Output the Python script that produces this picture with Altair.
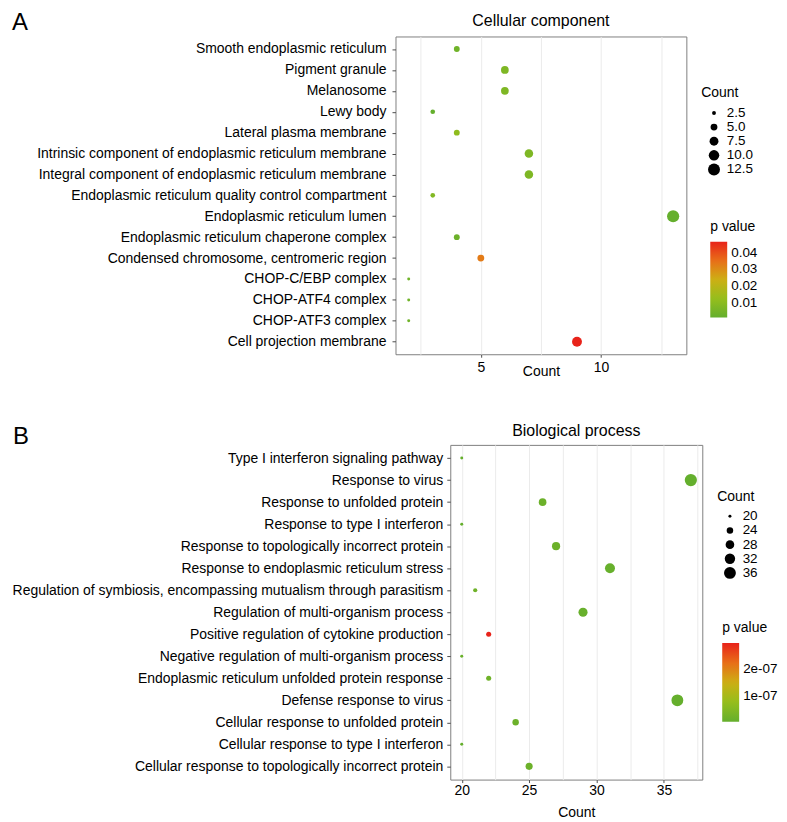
import altair as alt
import pandas as pd

# ---------------- Data ----------------
cc_terms = [
    "Smooth endoplasmic reticulum",
    "Pigment granule",
    "Melanosome",
    "Lewy body",
    "Lateral plasma membrane",
    "Intrinsic component of endoplasmic reticulum membrane",
    "Integral component of endoplasmic reticulum membrane",
    "Endoplasmic reticulum quality control compartment",
    "Endoplasmic reticulum lumen",
    "Endoplasmic reticulum chaperone complex",
    "Condensed chromosome, centromeric region",
    "CHOP-C/EBP complex",
    "CHOP-ATF4 complex",
    "CHOP-ATF3 complex",
    "Cell projection membrane",
]
cc_count = [4, 6, 6, 3, 4, 7, 7, 3, 13, 4, 5, 2, 2, 2, 9]
cc_pvalue = [0.004, 0.007, 0.007, 0.0012, 0.011, 0.007, 0.007, 0.008,
             0.0015, 0.003, 0.033, 0.004, 0.004, 0.004, 0.0466]

bp_terms = [
    "Type I interferon signaling pathway",
    "Response to virus",
    "Response to unfolded protein",
    "Response to type I interferon",
    "Response to topologically incorrect protein",
    "Response to endoplasmic reticulum stress",
    "Regulation of symbiosis, encompassing mutualism through parasitism",
    "Regulation of multi-organism process",
    "Positive regulation of cytokine production",
    "Negative regulation of multi-organism process",
    "Endoplasmic reticulum unfolded protein response",
    "Defense response to virus",
    "Cellular response to unfolded protein",
    "Cellular response to type I interferon",
    "Cellular response to topologically incorrect protein",
]
bp_count = [20, 37, 26, 20, 27, 31, 21, 29, 22, 20, 22, 36, 24, 20, 25]
bp_pvalue = [6e-9, 4e-9, 1.5e-8, 6e-9, 1.5e-8, 8e-9, 2e-8, 1e-8, 2.96e-7,
             1.2e-8, 2e-8, 5e-9, 1.5e-8, 6e-9, 1.5e-8]

cc_size_ticks = [2.5, 5, 7.5, 10, 12.5]
bp_size_ticks = [20, 24, 28, 32, 36]
cc_p_ticks = [0.01, 0.02, 0.03, 0.04]
bp_p_ticks = [1e-7, 2e-7]
cc_x_grid = [2.5, 5, 7.5, 10, 12.5]
bp_x_grid = [20, 22.5, 25, 27.5, 30, 32.5, 35, 37.5]

# green -> yellow-green -> mustard -> orange -> red (as in the colour bar)
P_COLORS = ["#64AF2D", "#96BE1C", "#CDAF14", "#E86E18", "#E8231A"]
LABEL_FS = 14


def panel(terms, counts, pvals, title, letter, width, height, letter_x,
          title_y, letter_y, xdom, grid_vals, label_pad, axis_title_y,
          ylabel_pad, size_dom, size_vals, size_fmt, p_vals, p_label_expr,
          lx_count, ly_count, lx_p, ly_p, grad_len):
    df = pd.DataFrame({"term": terms, "Count": counts, "p": pvals})
    pts = alt.Chart(df).mark_circle(opacity=1).encode(
        x=alt.X(
            "Count:Q",
            scale=alt.Scale(domain=xdom, nice=False, zero=False),
            axis=alt.Axis(
                values=grid_vals,
                labelExpr="datum.value % 5 == 0 ? datum.label : ''",
                tickOpacity={"condition": {"test": "datum.value % 5 == 0", "value": 1}, "value": 0},
                labelFlush=False,
                labelPadding=label_pad,
                tickSize=3,
                title="Count",
                titleY=axis_title_y,
                titleBaseline="middle",
            ),
        ),
        y=alt.Y(
            "term:N",
            sort=terms,
            scale=alt.Scale(type="point", padding=0.6),
            axis=alt.Axis(title=None, tickSize=3.5, labelPadding=ylabel_pad, labelLimit=600),
        ),
        size=alt.Size(
            "Count:Q",
            scale=alt.Scale(type="linear", zero=False, domain=size_dom, range=[9, 150]),
            legend=alt.Legend(
                title="Count",
                values=size_vals,
                format=size_fmt,
                orient="none",
                legendX=lx_count,
                legendY=ly_count,
                symbolFillColor="black",
                symbolStrokeWidth=0,
                symbolType="circle",
                symbolOffset=6,
                rowPadding=-0.8,
                labelOffset=6,
            ),
        ),
        color=alt.Color(
            "p:Q",
            scale=alt.Scale(range=P_COLORS, interpolate="rgb"),
            legend=alt.Legend(
                title="p value",
                values=p_vals,
                labelExpr=p_label_expr,
                orient="none",
                legendX=lx_p,
                legendY=ly_p,
                direction="vertical",
                gradientLength=grad_len,
                gradientThickness=17,
                gradientStrokeWidth=0,
                labelOffset=4,
                titlePadding=8,
            ),
        ),
    )
    ttl = alt.Chart(pd.DataFrame({"t": [title]})).mark_text(
        fontSize=16, align="center", baseline="middle", color="black"
    ).encode(text="t:N", x=alt.value(width / 2), y=alt.value(title_y))
    let = alt.Chart(pd.DataFrame({"t": [letter]})).mark_text(
        fontSize=24, align="left", baseline="middle", color="black"
    ).encode(text="t:N", x=alt.value(letter_x), y=alt.value(letter_y))
    layered = alt.layer(pts, ttl, let).properties(width=width, height=height)
    # a 1px invisible first column so that each panel's plot origin
    # is set by its own label width
    spacer = alt.Chart(pd.DataFrame({"s": [""]})).mark_text().encode(
        text="s:N", x=alt.value(0), y=alt.value(0)
    ).properties(width=1, height=1, view=alt.ViewBackground(stroke="transparent"))
    return alt.hconcat(spacer, layered, spacing=0).resolve_scale(
        color="independent", size="independent"
    )


top = panel(cc_terms, cc_count, cc_pvalue, "Cellular component", "A",
            292, 319, -385, -16, -14, [1.45, 13.55], cc_x_grid, 3, 17, 6,
            [2, 13], cc_size_ticks, ".1f", cc_p_ticks, "datum.label",
            307, 50, 316, 184, 76)

bottom = panel(bp_terms, bp_count, bp_pvalue, "Biological process", "B",
               253, 336, -439, -14, -8, [19.15, 37.85], bp_x_grid, 1, 33, 4,
               [20, 37], bp_size_ticks, "d", bp_p_ticks,
               "replace(format(datum.value, '.0e'), 'e-', 'e-0')",
               268, 45, 273, 177, 79)

chart = alt.vconcat(top, bottom, spacing=43).properties(
    padding=0
).resolve_scale(
    color="independent", size="independent"
).resolve_legend(
    color="independent", size="independent"
).configure(
    font="Liberation Sans"
).configure_view(
    stroke="#7F7F7F", strokeWidth=1
).configure_axis(
    gridColor="#EBEBEB",
    domain=False,
    tickColor="#4D4D4D",
    labelColor="black",
    labelFontSize=LABEL_FS,
    titleFontSize=LABEL_FS,
    titleFontWeight="normal",
    titleColor="black",
).configure_legend(
    titleFontSize=14,
    titleFontWeight="normal",
    titleColor="black",
    labelFontSize=13.5,
    labelColor="black",
    titlePadding=6,
)

chart.save("out.html", embed_options={"renderer": "svg", "actions": False})
